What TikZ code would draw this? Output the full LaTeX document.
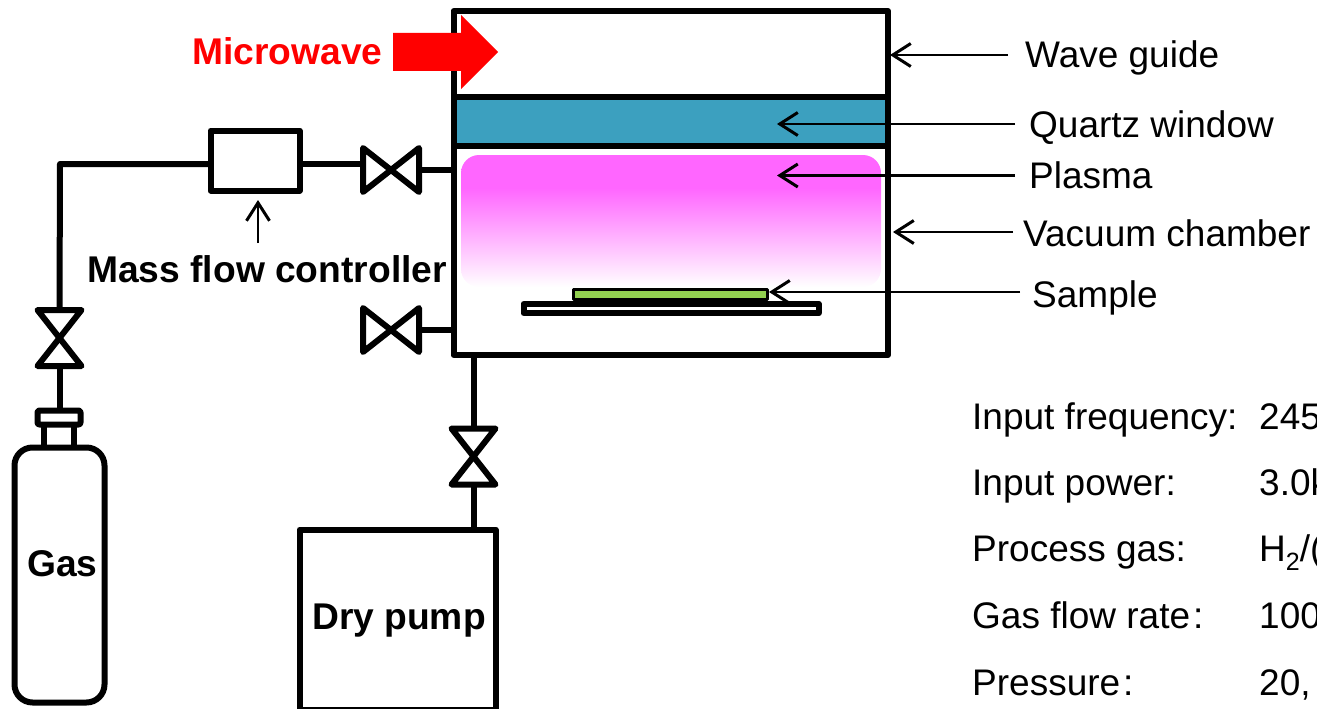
\documentclass[tikz,border=0pt]{standalone}
\usepackage{fontspec}
\setmainfont{Liberation Sans}
\definecolor{QuartzBlue}{RGB}{60,160,191}
\definecolor{SampleGreen}{RGB}{146,208,80}
\usetikzlibrary{arrows.meta, positioning}
\pgfdeclareverticalshading{plasmafade}{100bp}{rgb(0bp)=(1,1,1); rgb(25bp)=(1,1,1); rgb(62.5bp)=(1,0.4,1); rgb(100bp)=(1,0.4,1)}
\newcommand{\subtwo}{\raisebox{-9pt}{\fontsize{25}{25}\selectfont 2}}
\tikzset{
	pipe/.style={line width=6pt, line join=round},
	vessel/.style={draw, line width=6pt, rectangle, outer sep=0pt, inner sep=0pt, line join=round},
	lead/.style={-{Straight Barb[length=18pt, width=23pt, line width=3pt]}, line width=2.8pt},
	lbl/.style={anchor=base west, inner sep=0pt, font=\fontsize{37}{40}\selectfont},
	boldlbl/.style={lbl, font=\fontsize{37.2}{40}\selectfont\bfseries},
	valve/.pic={
		\draw[pipe] (-28,-22) -- (28,22) -- (28,-22) -- (-28,22) -- cycle;
		\coordinate (-l) at (-28,0);
		\coordinate (-r) at (28,0);
	}
}

\begin{document}
\begin{tikzpicture}[x=1pt, y=-1pt]
	\path[use as bounding box, clip] (0,0) rectangle (1317,709);
	\node[vessel, minimum width=434.5pt, minimum height=344pt] (chamber) at (670.75,183) {};
	\node[vessel, fill=QuartzBlue, minimum width=434.5pt, minimum height=49pt] (quartz) at (670.75,121.5) {};
	\shade[shading=plasmafade, rounded corners=18pt] (461,155) rectangle (881,287);
	\node[vessel, fill=white, minimum width=295pt, minimum height=9.5pt] (stage) at (671,308.5) {};
	\node[vessel, fill=SampleGreen, line width=3pt, minimum width=194pt, minimum height=10pt] (sample) at (670,294) {};
	\fill[red] (393,33) -- (461,33) -- (461,15) -- (498,52) -- (461,89) -- (461,71) -- (393,71) -- cycle;
	\node[boldlbl, text=red] (microwave) at (192,64.5) {Microwave};

	\node[vessel, minimum width=89pt, minimum height=60pt] (mfc) at (255,160.5) {};
	\node[boldlbl] (mfclabel) at (87,282) {Mass flow controller};
	\coordinate (mfctip) at (258,200);
	\coordinate (mfctail) at (258,243);
	\draw[lead] (mfctail) -- (mfctip);

	\pic (valveA) at (391,170) {valve};
	\pic (valveB) at (391,330) {valve};
	\pic[rotate=-90] (valveG) at (59.5,338) {valve};
	\pic[rotate=-90] (valveP) at (473.5,456.5) {valve};

	\node[vessel, rounded corners=18pt, minimum width=90pt, minimum height=255pt] (gas) at (59.5,575) {};
	\node[vessel, rounded corners=2pt, minimum width=43pt, minimum height=14pt] (cap) at (59,417.5) {};
	\node[boldlbl] (gaslabel) at (27,576) {Gas};
	\node[vessel, minimum width=196pt, minimum height=180pt] (pump) at (397.5,619.5) {};
	\node[boldlbl] (pumplabel) at (312,629.5) {Dry pump};

	\coordinate (bend) at (60,164);
	\draw[pipe] (mfc.west |- bend) -- (bend) -- (valveG-l);
	\draw[pipe] (mfc.east |- bend) -- (valveA-l |- bend);
	\draw[pipe] (valveA-r) -- (chamber.west |- valveA-r);
	\draw[pipe] (valveB-r) -- (chamber.west |- valveB-r);
	\draw[pipe] (valveG-r) -- (cap.north -| valveG-r);
	\draw[pipe] ([xshift=-15pt]cap.south) -- ([xshift=-15pt]cap.south |- gas.north);
	\draw[pipe] ([xshift=15pt]cap.south) -- ([xshift=15pt]cap.south |- gas.north);
	\draw[pipe] (chamber.south -| valveP-l) -- (valveP-l);
	\draw[pipe] (valveP-r) -- (pump.north -| valveP-r);

	\foreach \n/\t/\bx/\by/\tx/\ty/\g in {
		wave/{Wave guide}/1025/67/890/55/17,
		window/{Quartz window}/1029/137/777/124/14,
		plasma/{Plasma}/1029/188.5/777/175.5/14,
		vacuum/{Vacuum chamber}/1023/246/893/232/10,
		specimen/{Sample}/1032/307/769/292/12}{
		\node[lbl] (\n) at (\bx,\by) {\t};
		\coordinate (\n-tip) at (\tx,\ty);
		\draw[lead, shorten <=\g pt] (\n.west |- \n-tip) -- (\n-tip);
	}

	\foreach \n/\t/\v/\by in {
		freq/{Input frequency:}/{245}/429,
		power/{Input power:}/{3.0k}/495,
		process/{Process gas:}/{H\subtwo/(}/561,
		flow/{Gas flow rate\hspace{3pt}:}/{100}/628,
		press/{Pressure\hspace{3pt}:}/{20,}/695}{
		\node[lbl] (\n) at (972,\by) {\t};
		\node[lbl] (\n-val) at (1259,\by) {\v};
	}
\end{tikzpicture}
\end{document}
